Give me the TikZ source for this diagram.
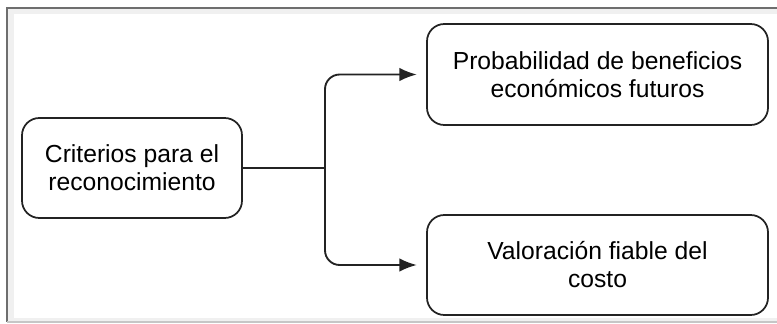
\documentclass[tikz,border=0pt]{standalone}
\usepackage{fontspec}
\setmainfont{Liberation Sans}
\usetikzlibrary{arrows.meta,positioning}
\definecolor{FrameGray}{RGB}{110,110,110}
\definecolor{BoxLine}{RGB}{35,35,35}

\begin{document}
\begin{tikzpicture}[x=0.75pt,y=-0.75pt,>={Latex[length=13pt,width=10pt]},
  box/.style={draw=BoxLine,line width=1.3pt,rounded corners=13pt,fill=white,align=center,
    font=\fontsize{18.5}{21}\selectfont,inner sep=0pt},
  link/.style={line width=1.4pt,BoxLine,rounded corners=11pt}]
\useasboundingbox (0,0) rectangle (777,324);
% frame
\fill[gray!12] (7,8) rectangle (790,322);
\fill[white] (14,14) rectangle (790,318);
\draw[FrameGray,line width=1.3pt] (790,8) -- (7,8) -- (7,322);
\draw[gray!45,line width=0.8pt] (7,322) -- (790,322);
% nodes
\node[box,minimum width=220*0.75pt,minimum height=100*0.75pt] (crit) at (132,168){Criterios para el\\reconocimiento};
\node[box,minimum width=341*0.75pt,minimum height=101*0.75pt] (prob) at (597.5,74.5){Probabilidad de beneficios\\económicos futuros};
\node[box,minimum width=341*0.75pt,minimum height=100*0.75pt] (valor) at (597.5,265){Valoración fiable del\\costo};
% connectors
\coordinate (split) at (325,168);
\draw[link] (crit.east) -- (split);
\draw[link,->,shorten >=7pt] (split) |- (prob.west);
\draw[link,->,shorten >=7pt] (split) |- (valor.west);
\end{tikzpicture}
\end{document}
